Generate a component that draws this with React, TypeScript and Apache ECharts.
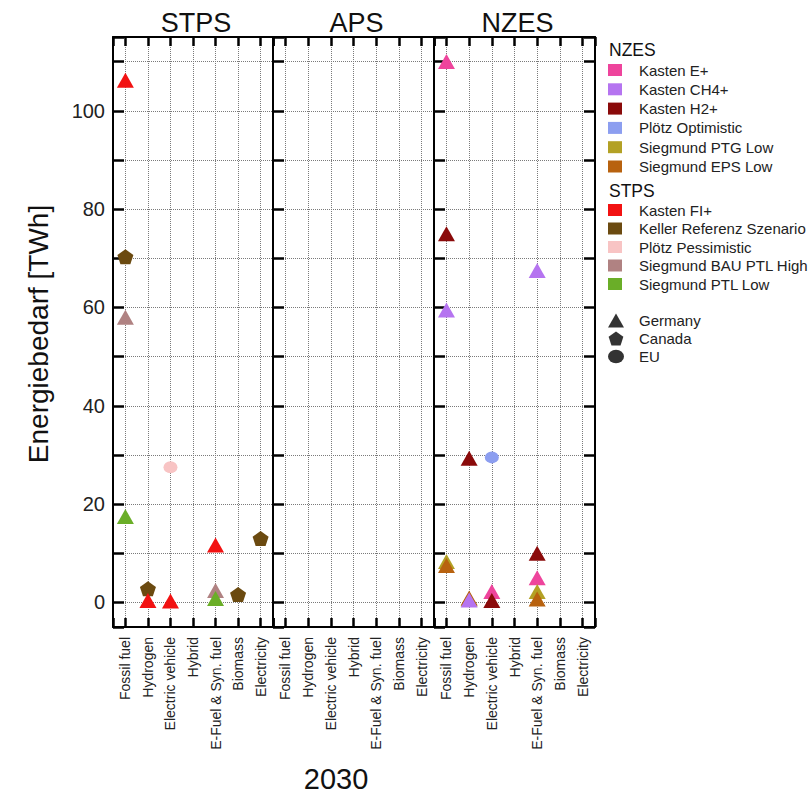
import React, { useEffect, useRef } from 'react';
import * as echarts from 'echarts';

const categories = ['Fossil fuel', 'Hydrogen', 'Electric vehicle', 'Hybrid', 'E-Fuel & Syn. fuel', 'Biomass', 'Electricity'];
const panels = ['STPS', 'APS', 'NZES'];
const yTickValues = [0, 10, 20, 30, 40, 50, 60, 70, 80, 90, 100, 110];
const yTickStep = 10;
const yLabelStep = 20;
const xTitle = '2030';
const yTitle = 'Energiebedarf [TWh]';

// STPS scenarios
const kastenFIPlus: [string, number][] = [['Fossil fuel', 106.2], ['Hydrogen', 0.4], ['Electric vehicle', 0.3], ['E-Fuel & Syn. fuel', 11.7]];
const kellerReferenz: [string, number][] = [['Fossil fuel', 70.3], ['Hydrogen', 2.8], ['Biomass', 1.6], ['Electricity', 13]];
const ploetzPessimistic: [string, number][] = [['Electric vehicle', 27.5]];
const siegmundBauPtlHigh: [string, number][] = [['Fossil fuel', 58], ['E-Fuel & Syn. fuel', 2.4]];
const siegmundPtlLow: [string, number][] = [['Fossil fuel', 17.5], ['E-Fuel & Syn. fuel', 0.8]];

// NZES scenarios
const kastenEPlus: [string, number][] = [['Fossil fuel', 110], ['Electric vehicle', 2.2], ['E-Fuel & Syn. fuel', 5]];
const kastenCH4Plus: [string, number][] = [['Fossil fuel', 59.5], ['Hydrogen', 0.5], ['E-Fuel & Syn. fuel', 67.5]];
const kastenH2Plus: [string, number][] = [['Fossil fuel', 75], ['Hydrogen', 29.3], ['Electric vehicle', 0.4], ['E-Fuel & Syn. fuel', 10]];
const ploetzOptimistic: [string, number][] = [['Electric vehicle', 29.5]];
const siegmundPtgLow: [string, number][] = [['Fossil fuel', 8.3], ['Hydrogen', 0.7], ['E-Fuel & Syn. fuel', 2.2]];
const siegmundEpsLow: [string, number][] = [['Fossil fuel', 7.5], ['Hydrogen', 0.9], ['E-Fuel & Syn. fuel', 0.7]];

const nzesLegend = ['Kasten E+', 'Kasten CH4+', 'Kasten H2+', 'Plötz Optimistic', 'Siegmund PTG Low', 'Siegmund EPS Low'];
const stpsLegend = ['Kasten FI+', 'Keller Referenz Szenario', 'Plötz Pessimistic', 'Siegmund BAU PTL High', 'Siegmund PTL Low'];
const regionLegend = ['Germany', 'Canada', 'EU'];

const PENTAGON = 'path://M50,0L97.55,34.55L79.39,90.45L20.61,90.45L2.45,34.55Z';
const ELLIPSE = 'path://M0,6A7,6 0 1,0 14,6A7,6 0 1,0 0,6Z';
const FONT = "'Liberation Sans', Arial, sans-serif";

type Shape = 'tri' | 'pent' | 'circ';
const symbolOf: Record<Shape, string> = { tri: 'triangle', pent: PENTAGON, circ: ELLIPSE };
const sizeOf: Record<Shape, number[]> = { tri: [17, 15], pent: [16, 15], circ: [14, 12] };

const seriesDefs: { name: string; panel: number; color: string; shape: Shape; data: [string, number][] }[] = [
  { name: 'Keller Referenz Szenario', panel: 0, color: '#6B4A10', shape: 'pent', data: kellerReferenz },
  { name: 'Kasten FI+', panel: 0, color: '#F21212', shape: 'tri', data: kastenFIPlus },
  { name: 'Plötz Pessimistic', panel: 0, color: '#F8C4C4', shape: 'circ', data: ploetzPessimistic },
  { name: 'Siegmund BAU PTL High', panel: 0, color: '#B08282', shape: 'tri', data: siegmundBauPtlHigh },
  { name: 'Siegmund PTL Low', panel: 0, color: '#6AAE28', shape: 'tri', data: siegmundPtlLow },
  { name: 'Kasten E+', panel: 2, color: '#EE449C', shape: 'tri', data: kastenEPlus },
  { name: 'Siegmund PTG Low', panel: 2, color: '#B3A125', shape: 'tri', data: siegmundPtgLow },
  { name: 'Siegmund EPS Low', panel: 2, color: '#B8620F', shape: 'tri', data: siegmundEpsLow },
  { name: 'Kasten H2+', panel: 2, color: '#8A0A0A', shape: 'tri', data: kastenH2Plus },
  { name: 'Kasten CH4+', panel: 2, color: '#B574F0', shape: 'tri', data: kastenCH4Plus },
  { name: 'Plötz Optimistic', panel: 2, color: '#8C9EF0', shape: 'circ', data: ploetzOptimistic },
];

const regionShapes: Record<string, Shape> = { Germany: 'tri', Canada: 'pent', EU: 'circ' };

export default function App() {
  const ref = useRef<HTMLDivElement>(null);
  useEffect(() => {
    if (!ref.current) return;
    const chart = echarts.init(ref.current, undefined, { renderer: 'svg' });
    const gridLefts = [113, 273, 434];
    const gridWidths = [160, 161, 161];
    const black = { color: '#000', width: 2 };
    const dotted = { type: 'dotted' as const, color: '#7a7a7a', width: 1 };
    const isInt = (v: number) => Math.abs(v - Math.round(v)) < 1e-6;

    const grid = panels.map((_, i) => ({ left: gridLefts[i], top: 37, width: gridWidths[i], height: 590 }));
    const xAxis: any[] = [];
    const yAxis: any[] = [];
    panels.forEach((_, i) => {
      const xBase = {
        type: 'value', gridIndex: i, min: -0.55, max: 6.55, minInterval: 1, maxInterval: 1,
        axisLine: { show: true, onZero: false, lineStyle: black },
        axisTick: { show: true, inside: true, length: 9, lineStyle: { color: '#000', width: 2.5 } },
      };
      xAxis.push({
        ...xBase, position: 'bottom',
        axisLabel: {
          show: true, rotate: 90, margin: 10, showMinLabel: true, showMaxLabel: true,
          formatter: (v: number) => (isInt(v) ? categories[Math.round(v)] ?? '' : ''),
          fontSize: 14, color: '#222', fontFamily: FONT,
        },
        splitLine: { show: true, lineStyle: dotted },
      });
      xAxis.push({ ...xBase, position: 'top', axisLabel: { show: false }, splitLine: { show: false } });
      const yBase = {
        type: 'value', gridIndex: i, min: -5, max: 115, minInterval: yTickStep, maxInterval: yTickStep,
        axisLine: { show: true, onZero: false, lineStyle: black },
      };
      yAxis.push({
        ...yBase, position: 'left',
        axisTick: { show: true, inside: true, length: 11, lineStyle: { color: '#000', width: 2.5 } },
        axisLabel: {
          show: i === 0, fontSize: 20, color: '#222', margin: 8, fontFamily: FONT,
          formatter: (v: number) => (isInt(v) && Math.round(v) % yLabelStep === 0 ? String(Math.round(v)) : ''),
        },
        splitLine: { show: true, lineStyle: dotted },
      });
      yAxis.push({
        ...yBase, position: 'right',
        axisTick: { show: i === 2, inside: true, length: 11, lineStyle: { color: '#000', width: 2.5 } },
        axisLabel: { show: false }, splitLine: { show: false },
      });
    });

    const series: any[] = seriesDefs.map((s) => ({
      type: 'scatter',
      name: s.name,
      xAxisIndex: s.panel * 2,
      yAxisIndex: s.panel * 2,
      symbol: symbolOf[s.shape],
      symbolSize: sizeOf[s.shape],
      itemStyle: { color: s.color, opacity: 1 },
      z: 5,
      data: s.data.map(([c, v]) => [categories.indexOf(c), v]),
    }));
    regionLegend.forEach((r) => {
      series.push({
        type: 'scatter', name: r, xAxisIndex: 0, yAxisIndex: 0,
        symbol: symbolOf[regionShapes[r]], symbolSize: sizeOf[regionShapes[r]],
        itemStyle: { color: '#000' }, data: [],
      });
    });

    const legendBase = {
      orient: 'vertical', left: 608, padding: 0, selectedMode: false,
      itemWidth: 14, itemHeight: 12,
      textStyle: { fontSize: 15, lineHeight: 15, color: '#222', fontFamily: FONT, padding: [0, 0, 0, 12] },
    };

    const option: any = {
      animation: false,
      backgroundColor: '#fff',
      grid,
      xAxis,
      yAxis,
      series,
      legend: [
        { ...legendBase, top: 62.5, itemGap: 4.3, icon: 'rect', data: nzesLegend },
        { ...legendBase, top: 202.5, itemGap: 3.5, icon: 'rect', data: stpsLegend },
        {
          ...legendBase, top: 313, itemGap: 3, itemWidth: 16, itemHeight: 14,
          textStyle: { ...legendBase.textStyle, padding: [0, 0, 0, 10] },
          data: regionLegend.map((r) => ({ name: r, icon: symbolOf[regionShapes[r]] })),
        },
      ],
      graphic: [
        ...panels.map((p, i) => ({
          type: 'text', x: gridLefts[i] + gridWidths[i] / 2 + 3, y: 23, z: 10,
          style: { text: p, fontSize: 27, fill: '#111', fontFamily: FONT, textAlign: 'center', textVerticalAlign: 'middle' },
        })),
        {
          type: 'text', x: 609, y: 50,
          style: { text: 'NZES', fontSize: 17.5, fill: '#111', fontFamily: FONT, textVerticalAlign: 'middle' },
        },
        {
          type: 'text', x: 609, y: 191,
          style: { text: 'STPS', fontSize: 17.5, fill: '#111', fontFamily: FONT, textVerticalAlign: 'middle' },
        },
        {
          type: 'text', x: 38, y: 334, rotation: Math.PI / 2,
          style: { text: yTitle, fontSize: 28, fill: '#111', fontFamily: FONT, textAlign: 'center', textVerticalAlign: 'middle' },
        },
        {
          type: 'text', x: 336, y: 779,
          style: { text: xTitle, fontSize: 29, fill: '#111', fontFamily: FONT, textAlign: 'center', textVerticalAlign: 'middle' },
        },
      ],
    };
    chart.setOption(option);
    return () => chart.dispose();
  }, []);
  return <div ref={ref} style={{ position: 'fixed', left: 0, top: 0, width: 810, height: 797, background: '#fff' }} />;
}
